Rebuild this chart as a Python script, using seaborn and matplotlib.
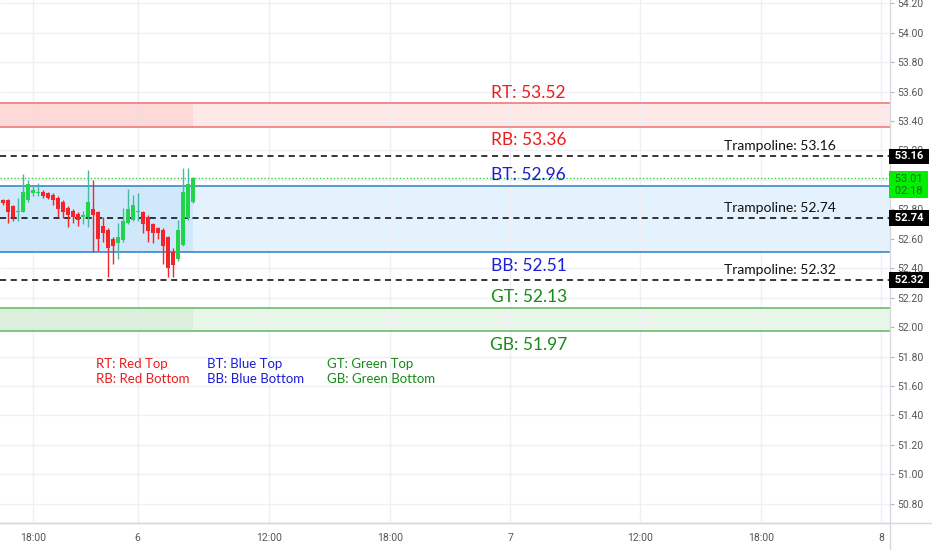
import matplotlib

matplotlib.use("Agg")
import matplotlib.pyplot as plt
import seaborn as sns
from matplotlib.lines import Line2D
from matplotlib.ticker import FormatStrFormatter, MultipleLocator

# 15-minute candles
opens = [52.86, 52.86, 52.82, 52.78, 52.78, 52.86, 52.91, 52.91, 52.92, 52.91,
         52.90, 52.88, 52.85, 52.81, 52.79, 52.77, 52.75, 52.75, 52.80, 52.78,
         52.69, 52.66, 52.60, 52.57, 52.59, 52.71, 52.73, 52.78, 52.78, 52.75,
         52.70, 52.67, 52.66, 52.61, 52.51, 52.46, 52.56, 52.74, 52.85]
highs = [52.87, 52.87, 52.83, 52.88, 53.04, 53.00, 52.96, 52.98, 52.93, 52.92,
         52.91, 52.89, 52.86, 52.82, 52.80, 52.78, 52.79, 53.07, 53.00, 52.79,
         52.75, 52.67, 52.61, 52.71, 52.81, 52.94, 52.90, 52.91, 52.79, 52.76,
         52.71, 52.68, 52.67, 52.62, 52.54, 52.73, 53.08, 53.08, 53.02]
lows = [52.83, 52.71, 52.72, 52.72, 52.78, 52.85, 52.89, 52.89, 52.88, 52.87,
        52.83, 52.75, 52.74, 52.68, 52.71, 52.69, 52.70, 52.68, 52.51, 52.52,
        52.58, 52.34, 52.43, 52.46, 52.58, 52.70, 52.72, 52.72, 52.64, 52.58,
        52.57, 52.60, 52.43, 52.34, 52.34, 52.45, 52.55, 52.73, 52.84]
closes = [52.84, 52.78, 52.75, 52.79, 52.92, 52.97, 52.93, 52.92, 52.89, 52.88,
          52.86, 52.80, 52.78, 52.76, 52.75, 52.73, 52.76, 52.85, 52.76, 52.60,
          52.64, 52.54, 52.55, 52.61, 52.72, 52.80, 52.83, 52.79, 52.70, 52.65,
          52.64, 52.64, 52.55, 52.40, 52.42, 52.66, 52.92, 52.97, 53.01]

# zones: (top, bottom)
red_zone = (53.52, 53.36)
blue_zone = (52.96, 52.51)
green_zone = (52.13, 51.97)
trampolines = [53.16, 52.74, 52.32]
countdown = "02:18"

time_tick_pos = [6, 27, 53.3, 77.5, 101.5, 127.5, 151.7, 175.7]
time_tick_labels = ["18:00", "6", "12:00", "18:00", "7", "12:00", "18:00", "8"]

legend_rows = [
    ("RT: Red Top", "RB: Red Bottom"),
    ("BT: Blue Top", "BB: Blue Bottom"),
    ("GT: Green Top", "GB: Green Bottom"),
]

UP, DOWN, UP_WICK = "#22d449", "#f5242a", "#45b8a0"
RED_TXT, BLUE_TXT, GREEN_TXT = "#ec1c1c", "#1d1dd8", "#178a17"
AXIS_FONT = ["Roboto", "DejaVu Sans"]

sns.set_theme(style="white")
plt.rcParams["font.family"] = ["Lato", "DejaVu Sans"]

fig = plt.figure(figsize=(9.32, 5.5), dpi=100)
ax = fig.add_axes([0, 27 / 550, 890 / 932, 523 / 550])
ax.set_xlim(-0.54, 177.46)
ax.set_ylim(50.669, 54.222)

# grid
ax.yaxis.set_major_locator(MultipleLocator(0.2))
ax.yaxis.set_major_formatter(FormatStrFormatter("%.2f"))
ax.set_xticks(time_tick_pos, time_tick_labels)
ax.grid(True, color="#eef0f5", lw=1)
ax.set_axisbelow(True)

n = len(closes)
xs = list(range(n))
last_x = xs[-1]


def zone(top, bottom, fill, alpha_all, alpha_left, edge):
    ax.axhspan(bottom, top, color=fill, alpha=alpha_all, lw=0, zorder=0.5)
    ax.fill_between([ax.get_xlim()[0], last_x], bottom, top, color=fill,
                    alpha=alpha_left, lw=0, zorder=0.6)
    ax.axhline(top, color=edge, lw=1.2, zorder=1)
    ax.axhline(bottom, color=edge, lw=1.2, zorder=1)


zone(*red_zone, "#ff1e1e", 0.10, 0.08, "#f07a7a")
zone(*blue_zone, "#2196f3", 0.12, 0.10, "#3d86c8")
zone(*green_zone, "#4caf50", 0.12, 0.08, "#6cbd6c")

for lvl in trampolines:
    ax.axhline(lvl, color="black", lw=1.1, ls=(0, (4, 3)), zorder=1.2)

ax.axhline(closes[-1], color="#3dcc3d", lw=1, ls=(0, (1, 1.5)), zorder=1.2)

# candles
for x, o, h, l, c in zip(xs, opens, highs, lows, closes):
    up = c >= o
    ax.vlines(x, l, h, color=UP_WICK if up else DOWN, lw=1, zorder=2)
    body = max(abs(c - o), 0.006)
    ax.bar(x, body, bottom=min(o, c), width=0.8, color=UP if up else DOWN,
           lw=0, zorder=3)

# zone labels
label_x = 105.2
for val, tag, col, above in [
    (red_zone[0], "RT", RED_TXT, True), (red_zone[1], "RB", RED_TXT, False),
    (blue_zone[0], "BT", BLUE_TXT, True), (blue_zone[1], "BB", BLUE_TXT, False),
    (green_zone[0], "GT", GREEN_TXT, True), (green_zone[1], "GB", GREEN_TXT, False),
]:
    ax.annotate(f"{tag}: {val:.2f}", (label_x, val),
                xytext=(0, 2 if above else -4), textcoords="offset points",
                ha="center", va="bottom" if above else "top",
                fontsize=12.5, color=col, zorder=5)

for lvl in trampolines:
    ax.annotate(f"Trampoline: {lvl:.2f}", (155.5, lvl), xytext=(0, 3),
                textcoords="offset points", ha="center", va="bottom",
                fontsize=10, color="#111111", zorder=5)

# legend block
for (top, bot), x0, col in zip(legend_rows, [18.7, 40.9, 64.9],
                               [RED_TXT, BLUE_TXT, GREEN_TXT]):
    ax.text(x0, 51.75, top, color=col, fontsize=9.5, va="center", ha="left")
    ax.text(x0, 51.647, bot, color=col, fontsize=9.5, va="center", ha="left")

# axes styling
sns.despine(ax=ax, left=True, top=True, right=False, bottom=False)
for side in ("right", "bottom"):
    ax.spines[side].set_color("#d6d8de")
    ax.spines[side].set_linewidth(1)
ax.yaxis.tick_right()
ax.tick_params(axis="y", which="major", length=3, width=0.8, color="#b2b5be",
               pad=2, labelsize=7.5, labelcolor="#555555", right=True)
ax.tick_params(axis="x", length=0, pad=7, labelsize=7.5, labelcolor="#555555")
for t in ax.get_yticklabels() + ax.get_xticklabels():
    t.set_fontfamily(AXIS_FONT)

fig.add_artist(Line2D([0, 1], [27 / 550] * 2, transform=fig.transFigure,
                      color="#d6d8de", lw=1))
fig.add_artist(Line2D([890 / 932] * 2, [0, 27 / 550], transform=fig.transFigure,
                      color="#d6d8de", lw=1))

# price tags on the axis
for lvl in trampolines:
    ax.annotate(f" {lvl:.2f} ", (1, lvl), xycoords=("axes fraction", "data"),
                xytext=(1.5, 0), textcoords="offset points", ha="left", va="center",
                fontsize=8, fontweight="bold", color="white", family=AXIS_FONT,
                annotation_clip=False,
                bbox=dict(boxstyle="square,pad=0.25", fc="black", ec="none"), zorder=6)
ax.annotate(f" {closes[-1]:.2f} \n {countdown} ", (1, closes[-1]),
            xycoords=("axes fraction", "data"), xytext=(1.5, -4.5),
            textcoords="offset points", ha="left", va="center", fontsize=8,
            color="#1f6b1f", family=AXIS_FONT, linespacing=1.25,
            annotation_clip=False,
            bbox=dict(boxstyle="square,pad=0.25", fc="#00f000", ec="none"), zorder=6)

fig.savefig("out.png", dpi=100)
